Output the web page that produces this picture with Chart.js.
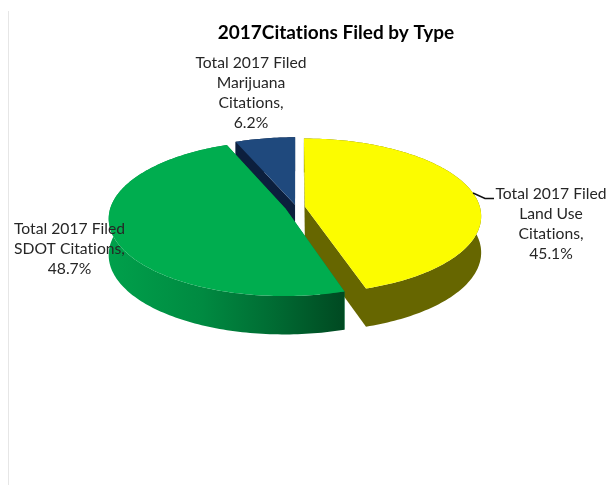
<!DOCTYPE html>
<html>
<head>
<meta charset="utf-8">
<title>2017 Citations Filed by Type</title>
<script src="https://cdn.jsdelivr.net/npm/chart.js@4"></script>
<style>
  html, body { margin: 0; padding: 0; background: #fff; }
  #wrap { position: relative; width: 610px; height: 486px; overflow: hidden; }
  #rule { position: absolute; left: 8px; top: 11px; bottom: 1px; width: 1px; background: #e6e6e6; }
  canvas { position: absolute; left: 0; top: 0; }
</style>
</head>
<body>
<div id="wrap">
  <div id="rule"></div>
  <canvas id="pie" width="610" height="486"></canvas>
</div>
<script>
const chartTitle = "2017Citations Filed by Type";
const categories = ["Land Use", "SDOT", "Marijuana"];
const labelLines = [
  ["Total 2017 Filed", "Land Use", "Citations,"],
  ["Total 2017 Filed", "SDOT Citations,"],
  ["Total 2017 Filed", "Marijuana", "Citations,"]
];
const values = [45.1, 48.7, 6.2];

const topColors = ["#FCFC00", "#00AD4F", "#1F497D"];
const wallColors = ["#666600", "#00803C", "#0C1F3D"];
const explode = [9, 11, 5];

// tilt of the pie plane
const tilt = { squash: 0.436, persp: 0.122, depth: 36 };
// label anchors: centre x and first baseline
const labelAnchors = [[551, 199], [69.5, 234], [251, 68]];
const paintOrder = [2, 0, 1];

const FONT = 'Lato, "Open Sans", sans-serif';

function project(el, x, y, drop) {
  const u = x / el.outerRadius, v = y / el.outerRadius;
  const w = 1 - tilt.persp * v;
  // the side walls shrink less towards the back than the top does
  const wallW = 1 - tilt.persp * 0.5 * v;
  return {
    x: el.x + el.outerRadius * u / w,
    y: el.y + el.outerRadius * tilt.squash * v / w + (drop ? tilt.depth / wallW : 0)
  };
}

function rimPoints(el, off, drop) {
  const pts = [];
  const steps = Math.ceil((el.endAngle - el.startAngle) / 0.02);
  for (let i = 0; i <= steps; i++) {
    const a = el.startAngle + (el.endAngle - el.startAngle) * i / steps;
    pts.push(project(el, off.x + Math.cos(a) * el.outerRadius, off.y + Math.sin(a) * el.outerRadius, drop));
  }
  return pts;
}

function fillPoly(ctx, pts, style) {
  ctx.beginPath();
  pts.forEach((p, i) => i ? ctx.lineTo(p.x, p.y) : ctx.moveTo(p.x, p.y));
  ctx.closePath();
  ctx.fillStyle = style;
  ctx.fill();
}

const tiltedPie = {
  id: "tiltedPie",
  beforeDatasetsDraw(chart) {
    const ctx = chart.ctx;
    const meta = chart.getDatasetMeta(0);

    paintOrder.forEach(i => {
      const arc = meta.data[i];
      const el = arc.getProps(["x", "y", "startAngle", "endAngle", "outerRadius"]);
      const mid = (el.startAngle + el.endAngle) / 2;
      const off = { x: Math.cos(mid) * arc.options.offset, y: Math.sin(mid) * arc.options.offset };
      const apex = project(el, off.x, off.y, false);
      const apexLow = project(el, off.x, off.y, true);
      const rim = rimPoints(el, off, false);
      const rimLow = rimPoints(el, off, true);

      // cut faces first, the top surface hides whichever face looks away
      fillPoly(ctx, [apex, rim[0], rimLow[0], apexLow], wallColors[i]);
      fillPoly(ctx, [apex, rim[rim.length - 1], rimLow[rimLow.length - 1], apexLow], wallColors[i]);

      let wall = wallColors[i];
      if (i === 1) {
        const g = ctx.createLinearGradient(109, 0, 342, 0);
        g.addColorStop(0, "#00A04B");
        g.addColorStop(0.4, "#008A41");
        g.addColorStop(0.7, "#006C33");
        g.addColorStop(1, "#004A22");
        wall = g;
      }
      fillPoly(ctx, rim.concat(rimLow.slice().reverse()), wall);
      fillPoly(ctx, [apex].concat(rim), arc.options.backgroundColor);
    });
    return false;
  },
  afterDraw(chart) {
    const ctx = chart.ctx;
    ctx.save();
    ctx.textAlign = "center";
    ctx.textBaseline = "alphabetic";
    // a hair of spacing switches off the "ti" ligature
    ctx.letterSpacing = "0.01px";

    ctx.fillStyle = "#000";
    ctx.font = "bold 19px " + FONT;
    ctx.fillText(chartTitle, 336, 39);

    // leader for the land use label
    ctx.strokeStyle = "#111";
    ctx.lineWidth = 1.5;
    ctx.beginPath();
    ctx.moveTo(473, 193);
    ctx.lineTo(485, 198.5);
    ctx.lineTo(494, 198.5);
    ctx.stroke();

    ctx.fillStyle = "#262626";
    ctx.font = "15.7px " + FONT;
    values.forEach((v, i) => {
      const lines = labelLines[i].concat(v.toFixed(1) + "%");
      lines.forEach((line, n) => {
        ctx.fillText(line, labelAnchors[i][0], labelAnchors[i][1] + n * 20);
      });
    });
    ctx.restore();
  }
};

new Chart(document.getElementById("pie"), {
  type: "pie",
  data: {
    labels: categories,
    datasets: [{
      data: values,
      backgroundColor: topColors,
      offset: explode,
      borderWidth: 0,
      radius: 175
    }]
  },
  options: {
    responsive: false,
    animation: false,
    layout: { padding: { left: 0, right: 18, top: 0, bottom: 72 } },
    plugins: {
      legend: { display: false },
      tooltip: { enabled: false },
      title: { display: false }
    }
  },
  plugins: [tiltedPie]
});
</script>
</body>
</html>
